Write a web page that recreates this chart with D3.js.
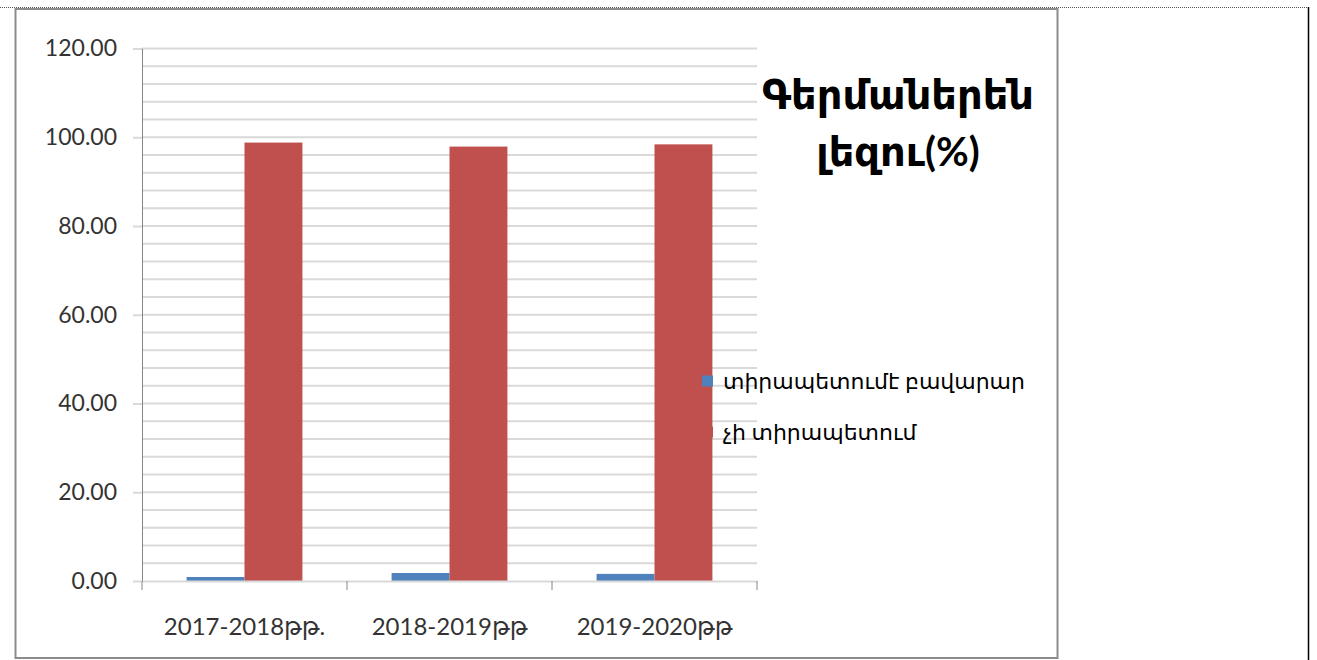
<!DOCTYPE html>
<html>
<head>
<meta charset="utf-8">
<script src="https://cdn.jsdelivr.net/npm/d3@7"></script>
<style>
  body { margin: 0; background: #fff; }
  svg { display: block; }
  text { font-family: Lato, "DejaVu Sans", sans-serif; fill: #333; }
</style>
</head>
<body>
<div id="chart"></div>
<script>
const years = ["2017-2018թթ.", "2018-2019թթ", "2019-2020թթ"];
const seriesNames = ["տիրապետումէ բավարար", "չի տիրապետում"];
const goodValues = [0.9, 1.8, 1.6];
const notValues = [98.8, 97.9, 98.4];
const yTicks = [0, 20, 40, 60, 80, 100, 120];
const titleLines = ["Գերմաներեն", "լեզու(%)"];

const colors = ["#4f81bd", "#c0504d"];
const W = 1317, H = 660;
const plot = { left: 142, right: 757, top: 48.5, bottom: 581 };

const svg = d3.select("#chart").append("svg")
    .attr("width", W).attr("height", H);

// page / frame lines
svg.append("line").attr("x1", 0).attr("x2", 1308).attr("y1", 7.5).attr("y2", 7.5)
    .attr("stroke", "#555").attr("stroke-dasharray", "1,1");
svg.append("line").attr("x1", 1308.5).attr("x2", 1308.5).attr("y1", 7).attr("y2", H)
    .attr("stroke", "#000").attr("stroke-width", 1.5);
svg.append("rect").attr("x", 15.5).attr("y", 9).attr("width", 1042).attr("height", 649)
    .attr("fill", "#fff").attr("stroke", "#8c8c8c").attr("stroke-width", 2);

const x = d3.scaleBand().domain(years).range([plot.left, plot.right]).paddingInner(0).paddingOuter(0);
const y = d3.scaleLinear().domain([0, 120]).range([plot.bottom, plot.top]);
const xs = d3.scaleBand().domain([0, 1]).range([0, x.bandwidth()]).paddingOuter(0.77).paddingInner(0);

// gridlines every 4
const g = svg.append("g");
g.selectAll("line.grid").data(d3.range(4, 121, 4)).enter().append("line")
    .attr("class", "grid")
    .attr("x1", plot.left).attr("x2", plot.right)
    .attr("y1", d => y(d)).attr("y2", d => y(d))
    .attr("stroke", "#d9d9d9").attr("stroke-width", 2);

// y axis
const yAxis = svg.append("g").attr("transform", `translate(${plot.left},0)`)
    .call(d3.axisLeft(y).tickValues(yTicks).tickSize(9).tickPadding(16).tickFormat(d3.format(".2f")));
yAxis.select(".domain").attr("stroke", "#868686");
yAxis.selectAll(".tick line").attr("stroke", "#d9d9d9").attr("stroke-width", 2);
yAxis.selectAll("text").attr("font-size", 23).attr("fill", "#333")
    .style("font-family", "Lato, 'DejaVu Sans', sans-serif");

// bars
const data = years.map((yr, i) => ({ yr, vals: [goodValues[i], notValues[i]] }));
const groups = svg.append("g").selectAll("g").data(data).enter().append("g")
    .attr("transform", d => `translate(${x(d.yr)},0)`);
groups.selectAll("rect").data(d => d.vals).enter().append("rect")
    .attr("x", (d, i) => xs(i))
    .attr("width", xs.bandwidth())
    .attr("y", d => y(d))
    .attr("height", d => y(0) - y(d))
    .attr("fill", (d, i) => colors[i]);

// x axis
const xAxis = svg.append("g").attr("transform", `translate(0,${plot.bottom})`)
    .call(d3.axisBottom(x).tickSize(0).tickPadding(37));
xAxis.select(".domain").attr("stroke", "#d9d9d9").attr("stroke-width", 2);
xAxis.selectAll("text").attr("font-size", 24).attr("fill", "#333")
    .style("font-family", "Lato, 'DejaVu Sans', sans-serif");
const xTickPos = years.map(yr => x(yr)).concat([plot.right]);
xAxis.selectAll("line.sep").data(xTickPos).enter().append("line")
    .attr("class", "sep")
    .attr("x1", d => d).attr("x2", d => d).attr("y1", 0).attr("y2", 9)
    .attr("stroke", "#868686");

// title
svg.append("g").selectAll("text").data(titleLines).enter().append("text")
    .attr("x", 898).attr("y", (d, i) => 109 + i * 57)
    .attr("text-anchor", "middle")
    .attr("font-size", 40).attr("font-weight", "bold").style("fill", "#000")
    .text(d => d);

// legend
const legend = svg.append("g").selectAll("g").data(seriesNames).enter().append("g")
    .attr("transform", (d, i) => `translate(702,${381 + i * 51})`);
legend.append("rect").attr("x", 0).attr("y", -5.5).attr("width", 11).attr("height", 11)
    .attr("fill", (d, i) => colors[i]);
legend.append("text").attr("x", 21).attr("y", 0).attr("dy", "0.35em")
    .attr("font-size", 22).style("fill", "#000")
    .text(d => d);
</script>
</body>
</html>
